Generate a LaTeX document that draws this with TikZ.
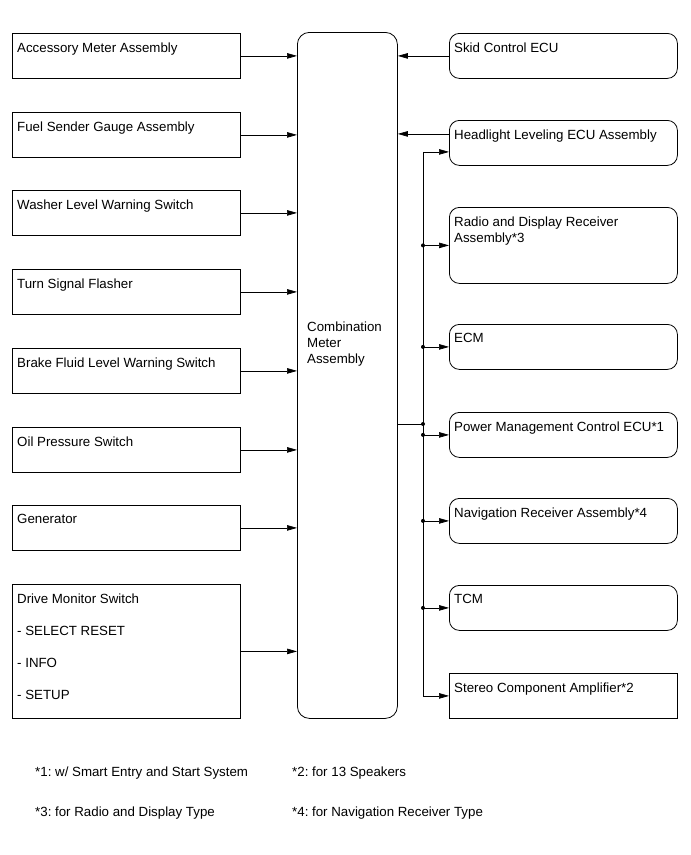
\documentclass[tikz,border=0pt]{standalone}
\usepackage{fontspec}
\setmainfont{Liberation Sans}
\usetikzlibrary{arrows.meta}
\frenchspacing

\begin{document}
\begin{tikzpicture}[
x=1pt, y=-1pt,
every node/.style={font=\fontsize{13.3}{16}\selectfont},
partbox/.style={draw, line width=0.8pt, minimum width=228pt, minimum height=45pt, anchor=north west, inner sep=0pt},
ecu/.style={partbox, rounded corners=10pt},
lbl/.style={anchor=north west, inner sep=0pt, align=left, xshift=5pt, yshift=-9.5pt},
note/.style={anchor=west, inner sep=0pt},
sig/.style={line width=0.7pt, -{Triangle[length=10pt, width=5.5pt]}}
]
\useasboundingbox (0,0) rectangle (691,855);

% inputs
\node[partbox, label={[lbl]north west:Accessory Meter Assembly}] (acc) at (12,33) {};
\node[partbox, label={[lbl]north west:Fuel Sender Gauge Assembly}] (fuel) at (12,112) {};
\node[partbox, label={[lbl]north west:Washer Level Warning Switch}] (washer) at (12,190) {};
\node[partbox, label={[lbl]north west:Turn Signal Flasher}] (turn) at (12,269) {};
\node[partbox, label={[lbl]north west:Brake Fluid Level Warning Switch}] (brake) at (12,348) {};
\node[partbox, label={[lbl]north west:Oil Pressure Switch}] (oil) at (12,427) {};
\node[partbox, label={[lbl]north west:Generator}] (gen) at (12,505) {};
\node[partbox, minimum height=134pt,
  label={[lbl]north west:{Drive Monitor Switch\\[16pt]- SELECT RESET\\[16pt]- INFO\\[16pt]- SETUP}}] (drive) at (12,584) {};

% meter
\node[draw, line width=0.8pt, rounded corners=12pt, minimum width=100pt, minimum height=686pt,
  anchor=north west, inner sep=0pt,
  label={[anchor=north west, inner sep=0pt, align=left, xshift=10pt, yshift=-290pt]north west:{Combination\\Meter\\Assembly}}] (meter) at (297,32) {};

% ECUs
\node[ecu, label={[lbl]north west:Skid Control ECU}] (skid) at (449,33) {};
\node[ecu, label={[lbl]north west:Headlight Leveling ECU Assembly}] (head) at (449,120) {};
\node[ecu, minimum height=76pt, label={[lbl]north west:{Radio and Display Receiver\\Assembly*3}}] (radio) at (449,207) {};
\node[ecu, label={[lbl]north west:ECM}] (ecm) at (449,324) {};
\node[ecu, label={[lbl]north west:Power Management Control ECU*1}] (pwr) at (449,412) {};
\node[ecu, label={[lbl]north west:Navigation Receiver Assembly*4}] (nav) at (449,498) {};
\node[ecu, label={[lbl]north west:TCM}] (tcm) at (449,585) {};
\node[partbox, label={[lbl]north west:Stereo Component Amplifier*2}] (amp) at (449,673) {};

% notes
\node[note] (fn1) at (35,773) {*1: w/ Smart Entry and Start System};
\node[note] (fn2) at (292,773) {*2: for 13 Speakers};
\node[note] (fn3) at (35,813) {*3: for Radio and Display Type};
\node[note] (fn4) at (292,813) {*4: for Navigation Receiver Type};

% signals in
\foreach \src in {acc,fuel,washer,turn,brake,oil,gen,drive}
  \draw[sig] (\src.east) -- (\src.east -| meter.west);
\coordinate (headout) at ([yshift=9pt]head.west);
\coordinate (headin) at ([yshift=-9pt]head.west);
\draw[sig] (skid.west) -- (skid.west -| meter.east);
\draw[sig] (headout) -- (headout -| meter.east);

% signals out
\coordinate (bus) at (423,424);
\draw[line width=0.7pt] (meter.east |- bus) -- (bus);
\draw[line width=0.7pt] (bus |- headin) -- (bus |- amp.west);
\draw[sig] (bus |- headin) -- (headin);
\draw[sig] (bus |- amp.west) -- (amp.west);
\foreach \dst in {radio,ecm,pwr,nav,tcm} {
  \draw[sig] (bus |- \dst.west) -- (\dst.west);
  \fill (bus |- \dst.west) circle (2pt);
}
\fill (bus) circle (2pt);
\end{tikzpicture}
\end{document}
